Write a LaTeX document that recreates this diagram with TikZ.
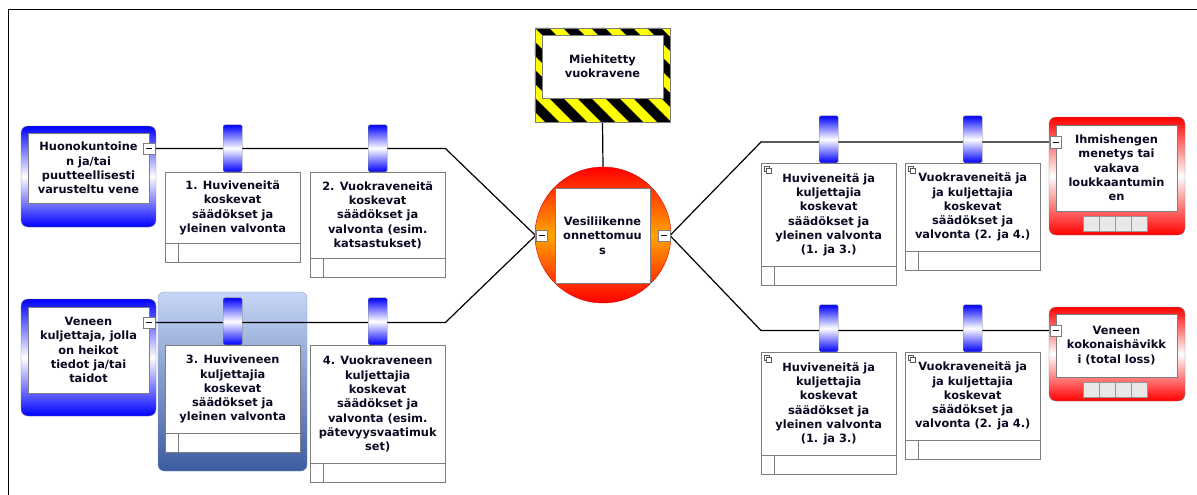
\documentclass[tikz,border=0pt]{standalone}
\usepackage{fontspec}
\setmainfont{DejaVu Sans}
\usepackage{tikz}
\usetikzlibrary{positioning,backgrounds}
\definecolor{ink}{RGB}{10,10,35}
\definecolor{thr}{RGB}{0,0,255}
\definecolor{csq}{RGB}{255,0,0}
\definecolor{evmid}{RGB}{255,165,0}
\definecolor{edge}{RGB}{125,125,125}
\definecolor{selt}{RGB}{198,214,245}
\definecolor{selb}{RGB}{60,92,160}
\definecolor{hazy}{RGB}{255,255,0}

\tikzset{
  lbl/.style={font=\bfseries\fontsize{11.4}{14.3}\selectfont,text=ink,align=center},
  whitebox/.style={lbl,draw=edge,fill=white,inner sep=0pt},
  threatbox/.style={draw=edge,rounded corners=7pt,top color=thr,bottom color=thr,
    middle color=white,minimum width=135pt,inner sep=0pt},
  conbox/.style={draw=edge,rounded corners=7pt,top color=csq,bottom color=csq,
    middle color=white,minimum width=136pt,inner sep=0pt},
  barrierbox/.style={whitebox,anchor=north west,minimum width=135pt},
  stripbox/.style={draw=edge,fill=white,minimum width=135pt,minimum height=19pt,inner sep=0pt},
  tabbox/.style={draw=edge,rounded corners=1.5pt,top color=thr,bottom color=thr,
    middle color=white,minimum width=19pt,minimum height=47pt,inner sep=0pt},
  togglebtn/.style={draw=edge,fill=white,minimum size=11.5pt,inner sep=0pt,
    path picture={\draw[ink,line width=0.9pt]
      ([xshift=-3pt]path picture bounding box.center) --
      ([xshift=3pt]path picture bounding box.center);}},
  link/.style={black,line width=1.2pt}
}

\begin{document}
\begin{tikzpicture}[x=1pt,y=-1pt]
\useasboundingbox (0,0) rectangle (1197,495);

% frame
\draw[black,line width=1pt] (8,495) -- (8,10) -- (1197,10);

% hazard
\node[draw=edge,fill=hazy,minimum width=135pt,minimum height=94pt] (hz) at (602.5,75) {};
\begin{scope}
  \clip (hz.south west) rectangle (hz.north east);
  \foreach \s in {-1,...,9}{
    \fill[black] (423+28*\s,28) -- ++(14,0) -- ++(94,94) -- ++(-14,0) -- cycle;}
\end{scope}
\draw[edge] (hz.south west) rectangle (hz.north east);
\node[whitebox,minimum width=121pt,minimum height=63pt] (hzin) at (602.5,66.5)
  {Miehitetty\\vuokravene};

% top event
\node[circle,draw=red!85!black,top color=csq,bottom color=csq,middle color=evmid,
  minimum size=136pt] (ev) at (603,235) {};
\node[whitebox,minimum width=95pt,minimum height=95pt] (evin) at (602.5,235.5)
  {Vesiliikenne\\onnettomuu\\s};
\node[togglebtn] (evl) at (541.5,235.5) {};
\node[togglebtn] (evr) at (664,235.5) {};

% threats
\node[threatbox,minimum height=101pt] (t1) at (88.5,176.5) {};
\node[whitebox,minimum width=121pt,minimum height=70pt] (t1in) at (88.5,168)
  {Huonokuntoine\\n ja/tai\\puutteellisesti\\varusteltu vene};
\node[togglebtn] (t1b) at (149,148.5) {};

\node[threatbox,minimum height=117pt] (t2) at (88.5,357.5) {};
\node[whitebox,minimum width=121pt,minimum height=86pt] (t2in) at (88.5,350)
  {Veneen\\kuljettaja, jolla\\on heikot\\tiedot ja/tai\\taidot};
\node[togglebtn] (t2b) at (149,322.5) {};

% consequences
\node[conbox,minimum height=118pt] (c1) at (1117,176) {};
\node[whitebox,minimum width=121pt,minimum height=86pt] (c1in) at (1116.5,168)
  {Ihmishengen\\menetys tai\\vakava\\loukkaantumin\\en};
\node[togglebtn] (c1b) at (1055.5,142) {};

\node[conbox,minimum height=94pt] (c2) at (1117,354) {};
\node[whitebox,minimum width=121pt,minimum height=63pt] (c2in) at (1116.5,345.5)
  {Veneen\\kokonaishävikk\\i (total loss)};
\node[togglebtn] (c2b) at (1055.5,330.5) {};

\foreach \y in {216,382}{
  \foreach \i in {0,...,3}{
    \draw[edge!80,fill=gray!18] (1083+16*\i,\y) rectangle ++(16,15);}}

% barriers
\node[barrierbox,minimum height=71pt] (b1) at (165,172)
  {1. Huviveneitä\\koskevat\\säädökset ja\\yleinen valvonta};
\node[barrierbox,minimum height=86pt] (b2) at (310,172)
  {2. Vuokraveneitä\\koskevat\\säädökset ja\\valvonta (esim.\\katsastukset)};
\node[barrierbox,minimum height=88pt] (b3) at (165,345)
  {3. Huviveneen\\kuljettajia\\koskevat\\säädökset ja\\yleinen valvonta};
\node[barrierbox,minimum height=118pt] (b4) at (310,345)
  {4. Vuokraveneen\\kuljettajia\\koskevat\\säädökset ja\\valvonta (esim.\\pätevyysvaatimuk\\set)};
\node[barrierbox,minimum height=103pt] (b5) at (761,163)
  {Huviveneitä ja\\kuljettajia\\koskevat\\säädökset ja\\yleinen valvonta\\(1. ja 3.)};
\node[barrierbox,minimum height=88pt] (b6) at (905,163)
  {Vuokraveneitä ja\\ja kuljettajia\\koskevat\\säädökset ja\\valvonta (2. ja 4.)};
\node[barrierbox,minimum height=103pt] (b7) at (761,352)
  {Huviveneitä ja\\kuljettajia\\koskevat\\säädökset ja\\yleinen valvonta\\(1. ja 3.)};
\node[barrierbox,minimum height=88pt] (b8) at (905,352)
  {Vuokraveneitä ja\\ja kuljettajia\\koskevat\\säädökset ja\\valvonta (2. ja 4.)};

\foreach \b in {b1,b2,b3,b4,b5,b6,b7,b8}{
  \node[tabbox,above=0pt of \b] (\b t) {};
  \node[stripbox,below=0pt of \b] (\b s) {};
  \draw[edge] ([xshift=13pt]\b s.north west) -- ([xshift=13pt]\b s.south west);}

\foreach \b in {b5,b6,b7,b8}{
  \draw[edge!70!black,fill=white] ([shift={(3pt,-3pt)}]\b.north west) rectangle ++(5pt,-5pt);
  \draw[edge!70!black,fill=white] ([shift={(5pt,-5pt)}]\b.north west) rectangle ++(5pt,-5pt);}

% selection and links
\begin{scope}[on background layer]
  \node[draw=selb!60!white,rounded corners=6pt,top color=selt,bottom color=selb,
    minimum width=149pt,minimum height=179pt] (sel) at (232.5,381.5) {};
  \draw[link] (t1b.east) -- (t1b.east -| b2.east) -- (evl.west);
  \draw[link] (t2b.east) -- (t2b.east -| b4.east) -- (evl.west);
  \draw[link] (hz.south) -- (ev.north);
  \draw[link] (evr.east) -- (c1b.west -| b5.west) -- (c1b.west);
  \draw[link] (evr.east) -- (c2b.west -| b7.west) -- (c2b.west);
\end{scope}

\end{tikzpicture}
\end{document}
